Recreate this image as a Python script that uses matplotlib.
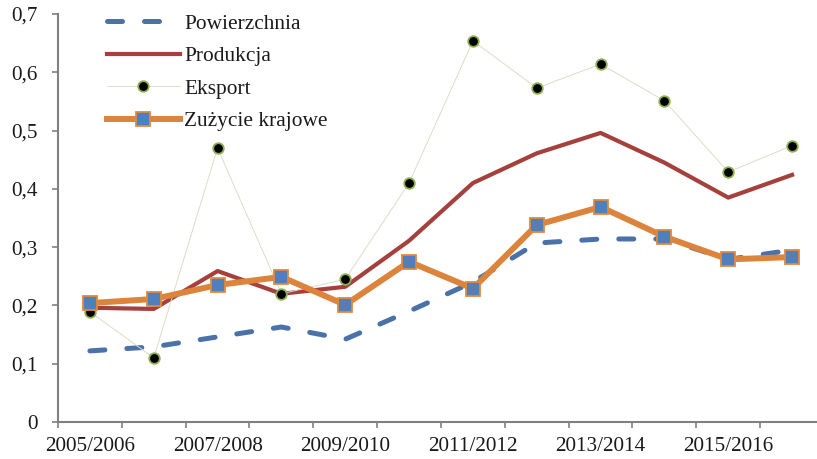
import matplotlib
matplotlib.use("Agg")
import matplotlib.pyplot as plt
import numpy as np

plt.rcParams['font.family'] = ['Liberation Serif', 'DejaVu Serif']

seasons = ["2005/2006", "2006/2007", "2007/2008", "2008/2009", "2009/2010", "2010/2011",
           "2011/2012", "2012/2013", "2013/2014", "2014/2015", "2015/2016", "2016/2017"]
powierzchnia = [0.122, 0.129, 0.146, 0.163, 0.142, 0.190, 0.240, 0.307, 0.314, 0.314, 0.279, 0.295]
produkcja = [0.196, 0.194, 0.259, 0.220, 0.232, 0.311, 0.410, 0.461, 0.496, 0.445, 0.385, 0.424]
eksport = [0.189, 0.110, 0.470, 0.220, 0.245, 0.410, 0.654, 0.573, 0.614, 0.551, 0.429, 0.474]
zuzycie = [0.204, 0.211, 0.235, 0.249, 0.201, 0.275, 0.229, 0.338, 0.369, 0.318, 0.279, 0.283]
y_ticks = [0, 0.1, 0.2, 0.3, 0.4, 0.5, 0.6, 0.7]
y_labels = ["0", "0,1", "0,2", "0,3", "0,4", "0,5", "0,6", "0,7"]

W, H = 817, 459
fig = plt.figure(figsize=(W / 100, H / 100), dpi=100)
ax = fig.add_axes([58 / W, (H - 422) / H, (824 - 58) / W, (422 - 14) / H])
x = np.arange(len(seasons))

l1, = ax.plot(x, powierzchnia, color='#4A72A9', lw=3.6, dashes=(3, 4.4),
              dash_capstyle='round', label='Powierzchnia', zorder=2)
l2, = ax.plot(x, produkcja, color='#A5403D', lw=3.0, label='Produkcja', zorder=3)
l3, = ax.plot(x, eksport, color='#DCDCC8', lw=0.7, marker='o', markersize=7.6,
              markerfacecolor='black', markeredgecolor='#8CAF50', markeredgewidth=1.3,
              label='Eksport', zorder=4)
l4, = ax.plot(x, zuzycie, color='#DC843C', lw=4.3, marker='s', markersize=9.6,
              markerfacecolor='#4F80BC', markeredgecolor='#E0893F', markeredgewidth=1.3,
              label='Zużycie krajowe', zorder=5)

ax.set_xlim(-0.5, len(seasons) - 0.5)
ax.set_ylim(0, 0.7)
ax.set_yticks(y_ticks)
ax.set_yticklabels(y_labels)
ax.set_xticks(np.arange(len(seasons) + 1) - 0.5)
ax.set_xticklabels([])
ax.set_xticks(x[::2], minor=True)
ax.set_xticklabels(seasons[::2], minor=True)
ax.tick_params(axis='x', which='major', direction='out', length=4.5, width=1.2, color='#808080')
ax.tick_params(axis='x', which='minor', length=0, pad=11, labelsize=15.2, labelcolor='#1a1a1a')
ax.tick_params(axis='y', direction='out', length=4.5, width=1.2, color='#808080',
               pad=10, labelsize=15.2, labelcolor='#1a1a1a')

for s in ['top', 'right']:
    ax.spines[s].set_visible(False)
for s in ['left', 'bottom']:
    ax.spines[s].set_color('#808080')
    ax.spines[s].set_linewidth(1.5)

leg = fig.legend(handles=[l1, l2, l3, l4], loc='upper left',
                 bbox_to_anchor=(107 / W, 1 - 14 / H), frameon=False,
                 fontsize=15.4, handlelength=3.4, handletextpad=0.22,
                 labelspacing=0.58, numpoints=1, borderaxespad=0, borderpad=0)
for t in leg.get_texts():
    t.set_color('#1a1a1a')

fig.savefig('out.png', dpi=100)
